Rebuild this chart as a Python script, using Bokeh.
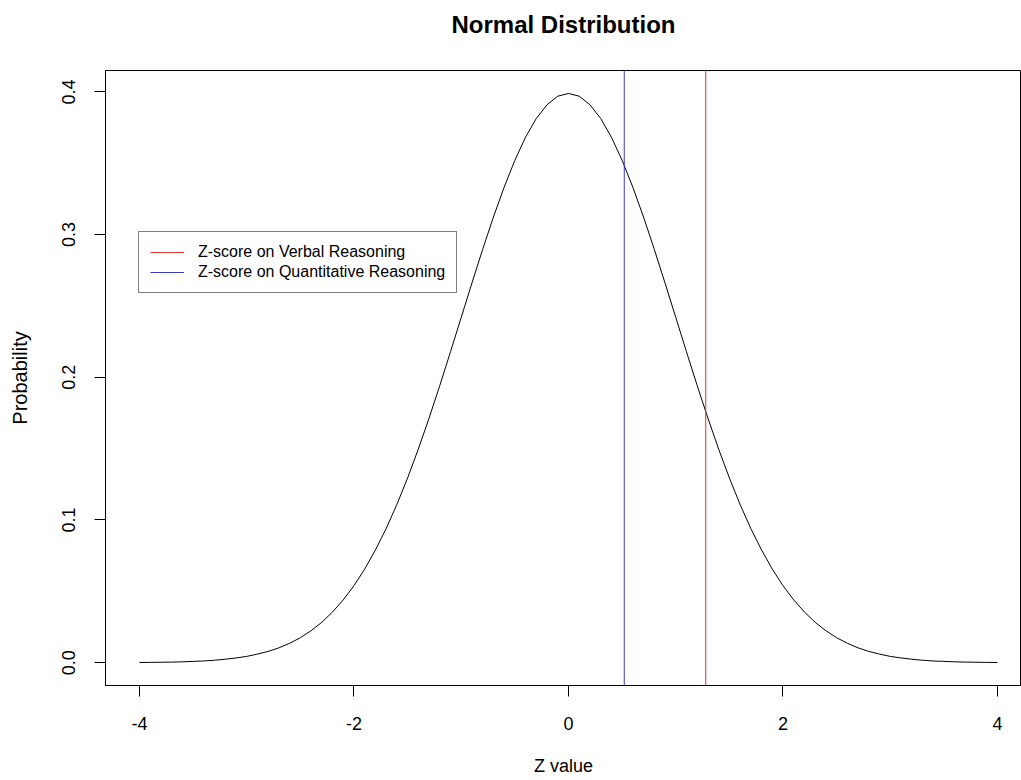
from bokeh.plotting import figure
from bokeh.models import Range1d, FixedTicker, NumeralTickFormatter, Legend, LegendItem, ColumnDataSource, Title
from bokeh.embed import file_html
from bokeh.resources import INLINE

# ---- data ----
z_values = [-4.0, -3.9, -3.8, -3.7, -3.6, -3.5, -3.4, -3.3, -3.2, -3.1,
            -3.0, -2.9, -2.8, -2.7, -2.6, -2.5, -2.4, -2.3, -2.2, -2.1,
            -2.0, -1.9, -1.8, -1.7, -1.6, -1.5, -1.4, -1.3, -1.2, -1.1,
            -1.0, -0.9, -0.8, -0.7, -0.6, -0.5, -0.4, -0.3, -0.2, -0.1,
            0.0, 0.1, 0.2, 0.3, 0.4, 0.5, 0.6, 0.7, 0.8, 0.9,
            1.0, 1.1, 1.2, 1.3, 1.4, 1.5, 1.6, 1.7, 1.8, 1.9,
            2.0, 2.1, 2.2, 2.3, 2.4, 2.5, 2.6, 2.7, 2.8, 2.9,
            3.0, 3.1, 3.2, 3.3, 3.4, 3.5, 3.6, 3.7, 3.8, 3.9, 4.0]
probability = [0.0001, 0.0002, 0.0003, 0.0004, 0.0006, 0.0009, 0.0012, 0.0017, 0.0024, 0.0033,
               0.0044, 0.0060, 0.0079, 0.0104, 0.0136, 0.0175, 0.0224, 0.0283, 0.0355, 0.0440,
               0.0540, 0.0656, 0.0790, 0.0940, 0.1109, 0.1295, 0.1497, 0.1714, 0.1942, 0.2179,
               0.2420, 0.2661, 0.2897, 0.3123, 0.3332, 0.3521, 0.3683, 0.3814, 0.3910, 0.3970,
               0.3989, 0.3970, 0.3910, 0.3814, 0.3683, 0.3521, 0.3332, 0.3123, 0.2897, 0.2661,
               0.2420, 0.2179, 0.1942, 0.1714, 0.1497, 0.1295, 0.1109, 0.0940, 0.0790, 0.0656,
               0.0540, 0.0440, 0.0355, 0.0283, 0.0224, 0.0175, 0.0136, 0.0104, 0.0079, 0.0060,
               0.0044, 0.0033, 0.0024, 0.0017, 0.0012, 0.0009, 0.0006, 0.0004, 0.0003, 0.0002, 0.0001]

marker_names = ["Z-score on Verbal Reasoning", "Z-score on Quantitative Reasoning"]
marker_z = [1.28, 0.52]
marker_colors = ["#E03030", "#3A3AC8"]

x_ticks = [-4, -2, 0, 2, 4]
x_tick_labels = ["-4", "-2", "0", "2", "4"]
y_ticks = [0.0, 0.1, 0.2, 0.3, 0.4]

FONT = "Liberation Sans"

x_range = Range1d(-4.317, 4.224)
y_range = Range1d(-0.016, 0.415)

p = figure(width=1021, height=780, output_backend="svg", toolbar_location=None,
           x_range=x_range, y_range=y_range,
           min_border_left=105, min_border_right=0, min_border_top=70, min_border_bottom=95,
           title="Normal Distribution")

p.background_fill_color = "white"
p.border_fill_color = "white"
p.outline_line_color = "black"
p.outline_line_width = 1
p.grid.visible = False

p.title.align = "center"
p.title.text_font = FONT
p.title.text_font_size = "24px"
p.title.text_font_style = "bold"
p.title.text_color = "black"
p.title.standoff = 10

# spacer between title and plot box
spacer = Title(text=" ", text_font_size="10px", standoff=15, align="center")
p.add_layout(spacer, "above")

for ax in (p.xaxis[0], p.yaxis[0]):
    ax.axis_line_color = "black"
    ax.major_tick_line_color = "black"
    ax.major_tick_out = 11
    ax.major_tick_in = 0
    ax.minor_tick_line_color = None
    ax.major_label_text_font = FONT
    ax.major_label_text_font_size = "18px"
    ax.major_label_text_color = "black"
    ax.axis_label_text_font = FONT
    ax.axis_label_text_font_size = "18px"
    ax.axis_label_text_font_style = "normal"
    ax.axis_label_text_color = "black"

p.xaxis.ticker = FixedTicker(ticks=x_ticks)
p.xaxis.major_label_overrides = {t: s for t, s in zip(x_ticks, x_tick_labels)}
p.yaxis.ticker = FixedTicker(ticks=y_ticks)
p.yaxis.formatter = NumeralTickFormatter(format="0.0")
p.yaxis.major_label_orientation = "vertical"
p.xaxis.axis_label = "Z value"
p.yaxis.axis_label = "Probability"
p.yaxis.axis_label_text_font_size = "20px"
p.xaxis.major_label_standoff = 20
p.xaxis.axis_label_standoff = 23
p.yaxis.major_label_standoff = 19
p.yaxis.axis_label_standoff = 29

curve_src = ColumnDataSource(data=dict(z=z_values, prob=probability))
p.line(x="z", y="prob", source=curve_src, line_color="black", line_width=1)

items = []
for name, z, c in zip(marker_names, marker_z, marker_colors):
    src = ColumnDataSource(data=dict(x=[z, z], y=[y_range.start - 1, y_range.end + 1]))
    r = p.line(x="x", y="y", source=src, line_color=c, line_width=1)
    items.append(LegendItem(label=name, renderers=[r]))

legend = Legend(items=items, location=(33, 392))
legend.border_line_color = "black"
legend.border_line_width = 1
legend.background_fill_color = "white"
legend.background_fill_alpha = 1
legend.label_text_font = FONT
legend.label_text_font_size = "16px"
legend.label_text_color = "black"
legend.glyph_width = 34
legend.glyph_height = 16
legend.label_height = 16
legend.label_standoff = 14
legend.spacing = 2
legend.padding = 11
legend.margin = 0
p.add_layout(legend)

open("out.html", "w").write(file_html(p, INLINE))
